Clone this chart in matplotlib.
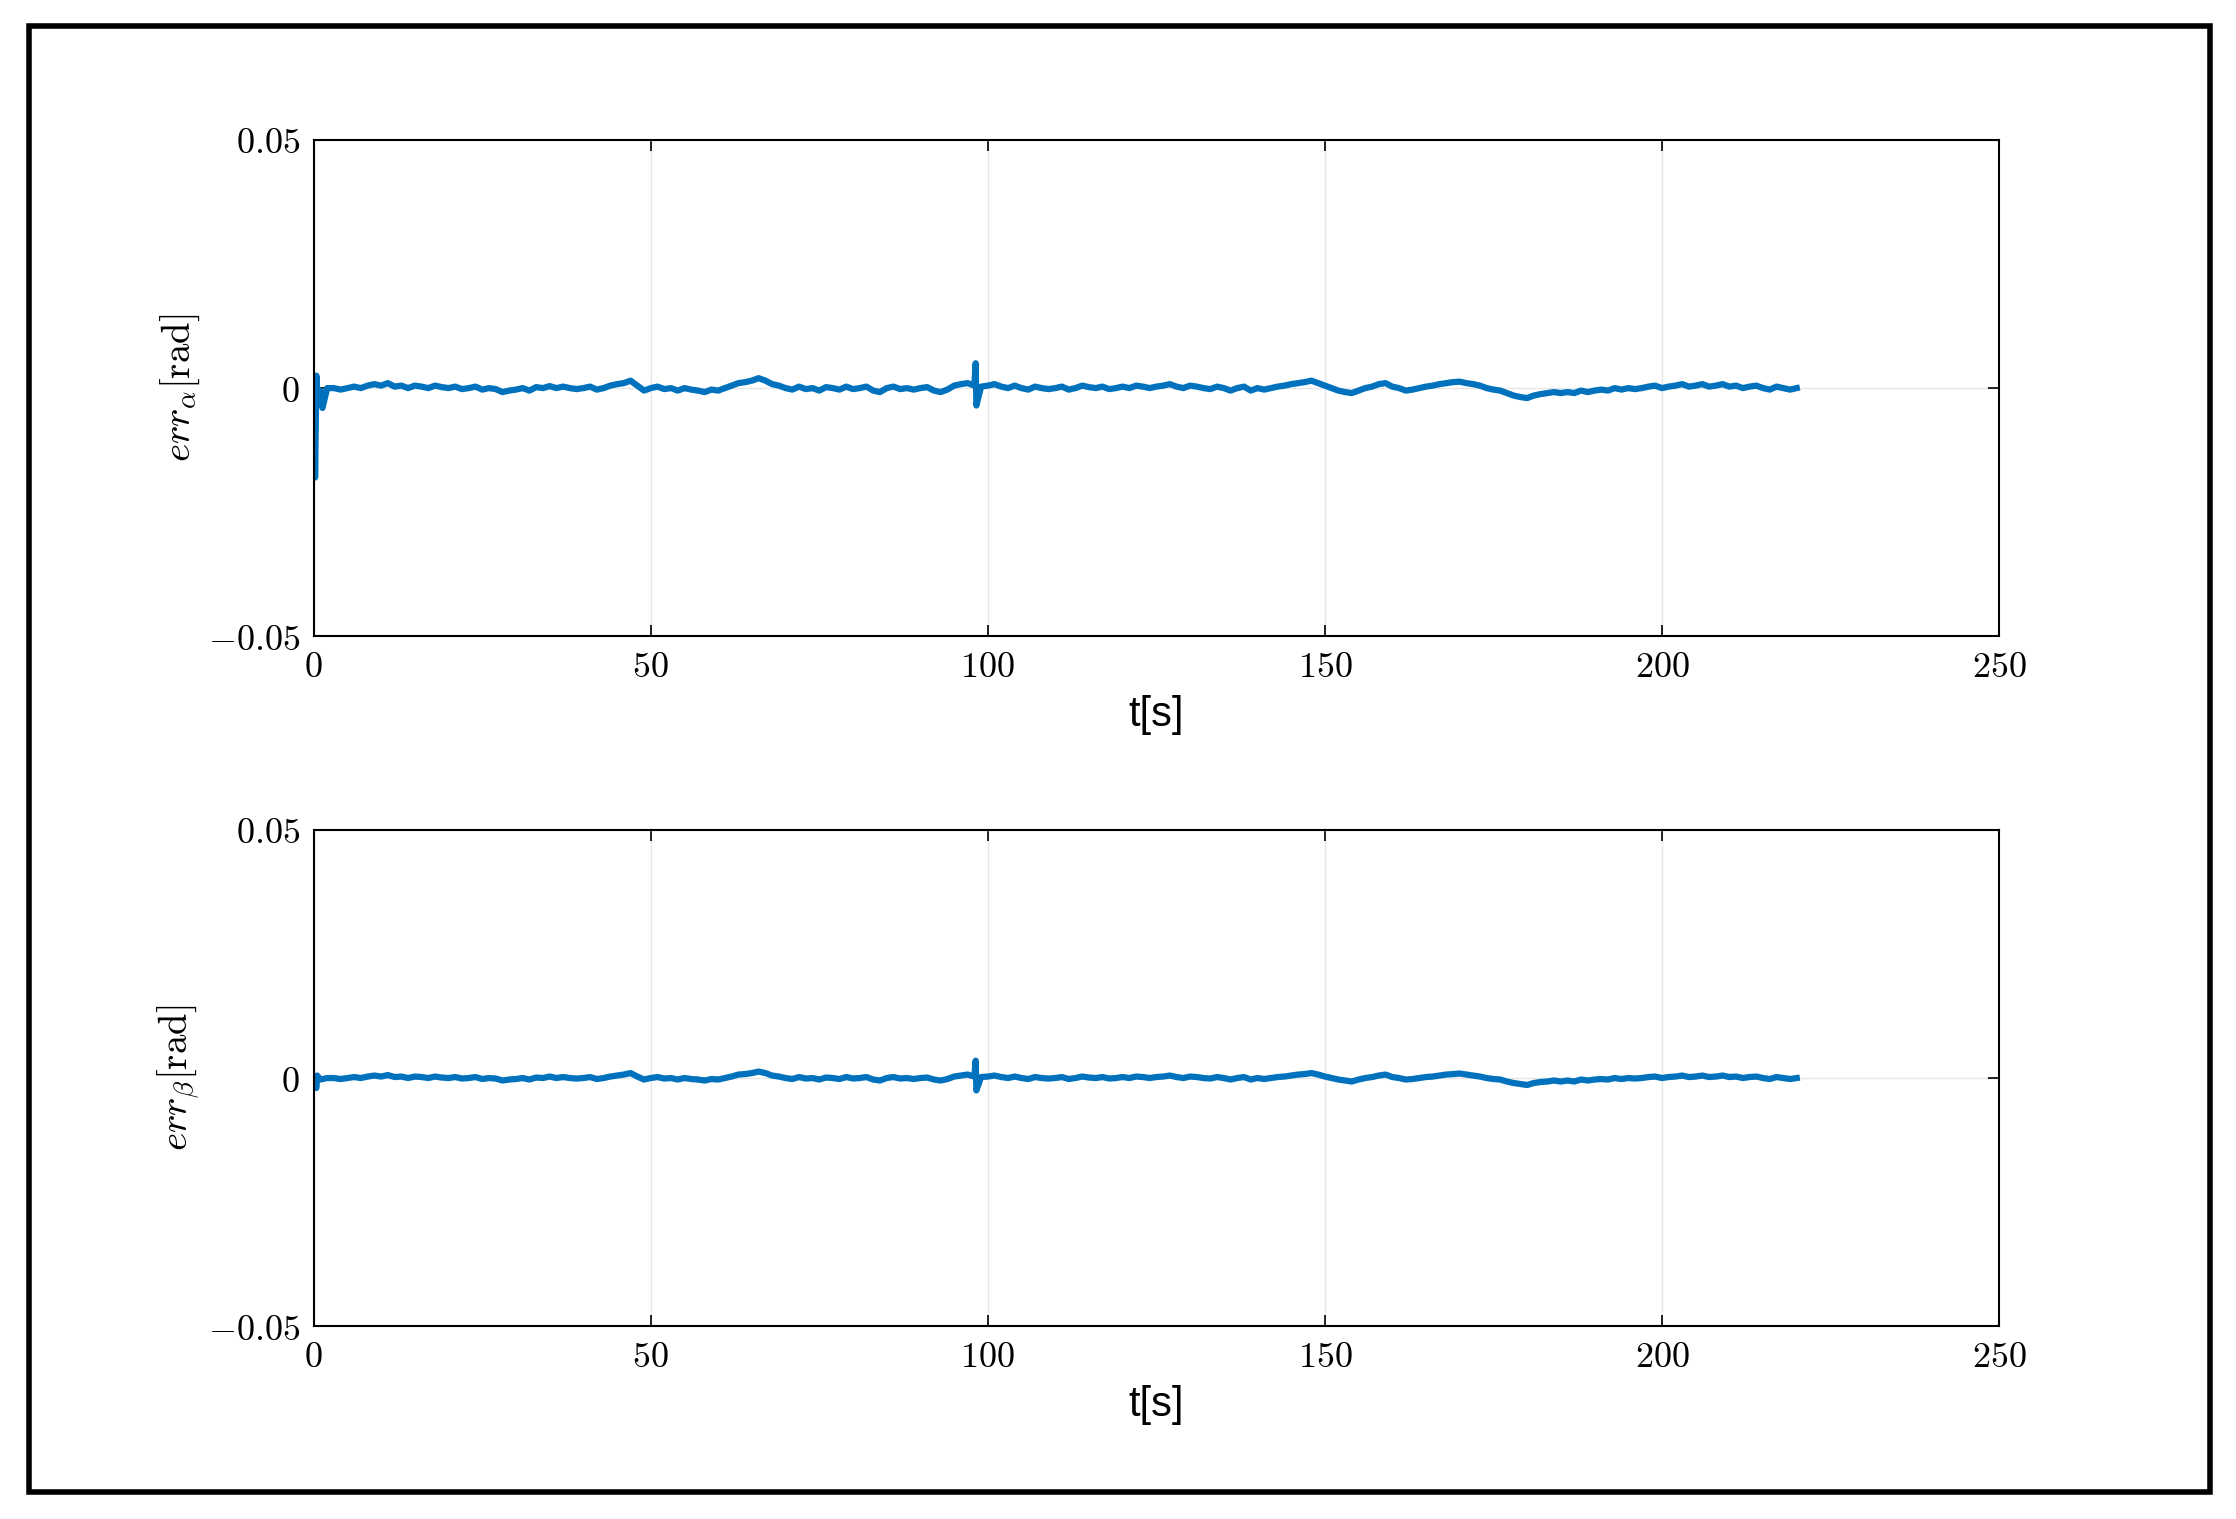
import matplotlib
matplotlib.use("Agg")
import matplotlib.pyplot as plt
from matplotlib.patches import Rectangle

t_grid = list(range(0, 221))
alpha_grid = [
 -1,-0.5,0,0,-0.3,0,0.3,0,0.5,0.8,
 0.5,1,0.3,0.5,0,0.5,0.3,0,0.5,0.2,
 0,0.3,-0.2,0,0.3,-0.3,0,-0.2,-0.8,-0.5,
 -0.3,0,-0.5,0.2,0,0.4,0,0.3,0,-0.2,
 0,0.3,-0.3,0,0.5,0.8,1,1.5,0.5,-0.5,
 0,0.3,-0.2,0,-0.5,0,-0.3,-0.5,-0.8,-0.3,
 -0.5,0,0.5,1,1.2,1.5,2,1.5,0.8,0.5,
 0,-0.3,0.3,-0.2,0,-0.5,0.2,0,-0.3,0.3,
 -0.2,0,0.3,-0.5,-0.8,0,0.3,-0.2,0,-0.3,
 0,0.2,-0.5,-0.8,-0.3,0.5,0.8,1,0.5,0.3,
 0.5,0.8,0.3,0,0.5,0,-0.3,0.3,0,-0.2,
 0,0.3,-0.3,0,0.5,0.2,0,0.3,-0.2,0,
 0.3,0,0.5,0.3,0,0.3,0.5,0.8,0.3,0,
 0.5,0.3,0,-0.2,0.3,0,-0.5,0,0.3,-0.5,
 0,-0.3,0,0.3,0.5,0.8,1,1.2,1.5,1,
 0.5,0,-0.5,-0.8,-1,-0.5,0,0.3,0.8,1,
 0.3,0,-0.5,-0.3,0,0.3,0.5,0.8,1,1.2,
 1.3,1,0.8,0.5,0,-0.3,-0.5,-1,-1.5,-1.8,
 -2,-1.5,-1.2,-1,-0.8,-1,-0.8,-1,-0.5,-0.8,
 -0.5,-0.3,-0.5,0,-0.3,0,-0.2,0,0.3,0.5,
 0,0.3,0.5,0.8,0.3,0.5,0.8,0.3,0.5,0.8,
 0.3,0.5,0,0.3,0.5,0,-0.3,0.3,0,-0.3,
 0]
beta_grid = [
 -0.5,-0.3,0,0,-0.2,0,0.2,0,0.3,0.5,
 0.3,0.6,0.2,0.3,0,0.3,0.2,0,0.3,0.1,
 0,0.2,-0.1,0,0.2,-0.2,0,-0.1,-0.5,-0.3,
 -0.2,0,-0.3,0.1,0,0.3,0,0.2,0,-0.1,
 0,0.2,-0.2,0,0.3,0.5,0.7,1,0.3,-0.3,
 0,0.2,-0.1,0,-0.3,0,-0.2,-0.3,-0.5,-0.2,
 -0.3,0,0.3,0.7,0.8,1,1.3,1,0.5,0.3,
 0,-0.2,0.2,-0.1,0,-0.3,0.1,0,-0.2,0.2,
 -0.1,0,0.2,-0.3,-0.5,0,0.2,-0.1,0,-0.2,
 0,0.1,-0.3,-0.5,-0.2,0.3,0.5,0.7,0.3,0.2,
 0.3,0.5,0.2,0,0.3,0,-0.2,0.2,0,-0.1,
 0,0.2,-0.2,0,0.3,0.1,0,0.2,-0.1,0,
 0.2,0,0.3,0.2,0,0.2,0.3,0.5,0.2,0,
 0.3,0.2,0,-0.1,0.2,0,-0.3,0,0.2,-0.3,
 0,-0.2,0,0.2,0.3,0.5,0.7,0.8,1,0.7,
 0.3,0,-0.3,-0.5,-0.7,-0.3,0,0.2,0.5,0.7,
 0.2,0,-0.3,-0.2,0,0.2,0.3,0.5,0.7,0.8,
 0.9,0.7,0.5,0.3,0,-0.2,-0.3,-0.7,-1,-1.2,
 -1.4,-1,-0.8,-0.7,-0.5,-0.7,-0.5,-0.7,-0.3,-0.5,
 -0.3,-0.2,-0.3,0,-0.2,0,-0.1,0,0.2,0.3,
 0,0.2,0.3,0.5,0.2,0.3,0.5,0.2,0.3,0.5,
 0.2,0.3,0,0.2,0.3,0,-0.2,0.2,0,-0.2,
 0]
alpha_spike_t = [0.1, 0.2, 0.4, 0.6, 1.3, 98.2, 98.3]
alpha_spike_v = [2, -18, 2.5, -3, -4, 5, -3.5]
beta_spike_t = [0.4, 0.5, 98.2, 98.3]
beta_spike_v = [-2, 0.5, 3.5, -2.5]

def merge(tg, vg, ts, vs):
    pts = sorted(list(zip(tg, vg)) + list(zip(ts, vs)))
    return [p[0] for p in pts], [p[1] * 1e-3 for p in pts]

plt.rcParams['mathtext.fontset'] = 'cm'
plt.rcParams['axes.formatter.use_mathtext'] = True
fig = plt.figure(figsize=(22.36, 15.19), dpi=100)
fig.patches.append(Rectangle((0.0128, 0.018), 0.9757, 0.965, transform=fig.transFigure,
                             fill=False, lw=4, edgecolor='black'))

series = [(alpha_grid, alpha_spike_t, alpha_spike_v, r'$err_\alpha\mathrm{[rad]}$', 0.581),
          (beta_grid, beta_spike_t, beta_spike_v, r'$err_\beta\mathrm{[rad]}$', 0.1268)]
for vg, ts, vs, lab, bot in series:
    ax = fig.add_axes([0.1403, bot, 0.7537, 0.327])
    tt, vv = merge(t_grid, vg, ts, vs)
    ax.plot(tt, vv, color='#0072BD', lw=4.5)
    ax.set_xlim(0, 250)
    ax.set_ylim(-0.05, 0.05)
    ax.set_xticks([0, 50, 100, 150, 200, 250])
    ax.set_yticks([-0.05, 0, 0.05])
    ax.set_yticklabels([r'$-0.05$', r'$0$', r'$0.05$'])
    ax.set_xticklabels([r'$0$', r'$50$', r'$100$', r'$150$', r'$200$', r'$250$'])
    ax.grid(True, color='#e6e6e6', lw=1)
    ax.tick_params(direction='in', top=True, right=True, labelsize=26, length=8, width=1.2, pad=10)
    for s in ax.spines.values():
        s.set_linewidth(1.5)
    ax.set_xlabel('t[s]', fontsize=30, family='Liberation Sans', labelpad=8)
    ax.set_ylabel(lab, fontsize=28, labelpad=4)

fig.savefig('out.png', dpi=100)
